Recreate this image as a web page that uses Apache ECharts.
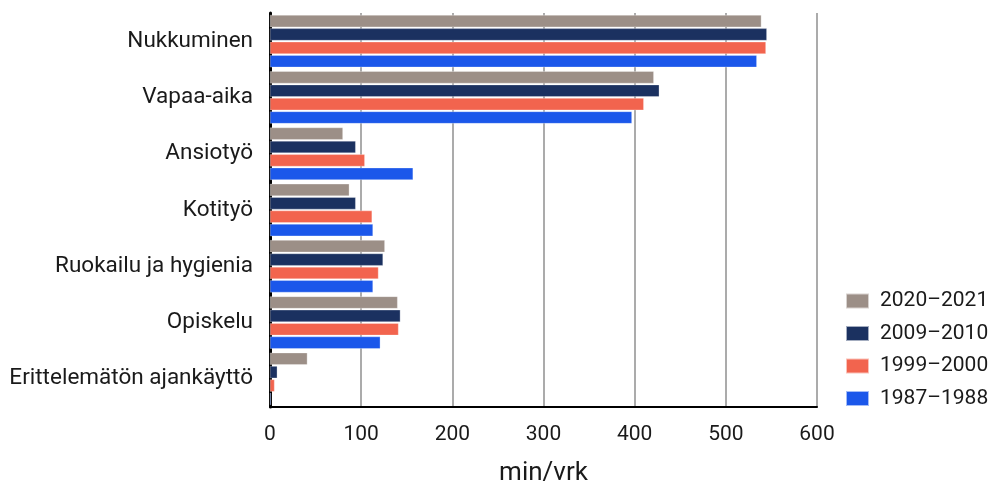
<!DOCTYPE html>
<html>
<head>
<meta charset="utf-8">
<script src="https://cdn.jsdelivr.net/npm/echarts@6/dist/echarts.min.js"></script>
<style>
  html, body { margin: 0; padding: 0; background: #fff; }
  #chart { width: 993px; height: 485px; }
</style>
</head>
<body>
<div id="chart"></div>
<script>
// Ajankäyttö toiminnoittain, minuuttia vuorokaudessa
const categories = [
  'Nukkuminen',
  'Vapaa-aika',
  'Ansiotyö',
  'Kotityö',
  'Ruokailu ja hygienia',
  'Opiskelu',
  'Erittelemätön ajankäyttö'
];

const seriesNames = ['2020–2021', '2009–2010', '1999–2000', '1987–1988'];

const values2020 = [539, 421, 80, 87, 126, 140, 41];
const values2009 = [545, 427, 94, 94, 124, 143, 8];
const values1999 = [544, 410, 104, 112, 119, 141, 5];
const values1987 = [534, 397, 157, 113, 113, 121, 1];

const xTicks = [0, 100, 200, 300, 400, 500, 600];

const colors = ['#9c8f87', '#1b3160', '#f2644e', '#1b57ea'];
const seriesValues = [values2020, values2009, values1999, values1987];

const FONT = 'Roboto';
const TEXT = '#1a1a1a';

const chart = echarts.init(document.getElementById('chart'), null, { renderer: 'canvas' });

chart.setOption({
  animation: false,
  textStyle: { fontFamily: FONT },
  grid: {
    left: 270, right: 176, top: 13, bottom: 78,
    containLabel: false,
    outerBoundsMode: 'none'
  },
  legend: {
    orient: 'vertical',
    left: 845,
    top: 289,
    padding: 0,
    itemWidth: 23,
    itemHeight: 15,
    itemGap: 8.5,
    icon: 'rect',
    textStyle: { fontSize: 21, lineHeight: 24, color: TEXT, fontFamily: FONT, padding: [0, 0, 0, 6] },
    data: seriesNames
  },
  xAxis: {
    type: 'value',
    min: xTicks[0],
    max: xTicks[xTicks.length - 1],
    interval: 100,
    name: 'min/vrk',
    nameLocation: 'middle',
    nameGap: 53,
    nameTextStyle: { fontSize: 26, color: TEXT, fontFamily: FONT },
    axisLine: { show: true, lineStyle: { color: '#000', width: 2 } },
    axisTick: { show: false },
    axisLabel: { fontSize: 21, color: TEXT, margin: 17, fontFamily: FONT },
    splitLine: { show: true, lineStyle: { color: '#8f8f8f', width: 1.5 } }
  },
  yAxis: {
    type: 'category',
    data: categories,
    inverse: true,
    axisLine: { show: true, lineStyle: { color: '#000', width: 3 } },
    axisTick: { show: false },
    axisLabel: { fontSize: 22.5, color: TEXT, margin: 17, fontFamily: FONT, padding: [0, 0, 5, 0] }
  },
  series: seriesNames.map((name, i) => ({
    name: name,
    type: 'bar',
    data: seriesValues[i],
    barGap: '10%',
    barCategoryGap: '7%',
    itemStyle: { color: colors[i], borderColor: 'rgba(255,255,255,0.6)', borderWidth: 0.5 }
  }))
});
</script>
</body>
</html>
